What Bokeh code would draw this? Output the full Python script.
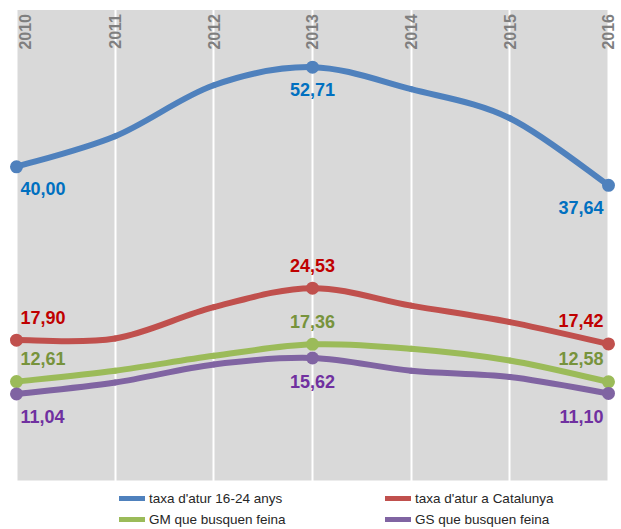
import math
from bokeh.plotting import figure
from bokeh.models import Range1d, BoxAnnotation, Grid, FixedTicker, Legend, LegendItem
from bokeh.core.properties import value
from bokeh.embed import file_html
from bokeh.resources import INLINE

years = [2010, 2011, 2012, 2013, 2014, 2015, 2016]
taxa_16_24 = [40.00, 43.9, 50.4, 52.71, 49.9, 46.2, 37.64]
taxa_cat = [17.90, 18.1, 22.1, 24.53, 22.3, 20.2, 17.42]
gm_feina = [12.61, 14.0, 15.9, 17.36, 16.8, 15.3, 12.58]
gs_feina = [11.04, 12.5, 14.8, 15.62, 14.0, 13.2, 11.10]
labelled_years = [2010, 2013, 2016]
series_names = ["taxa d'atur 16-24 anys", "taxa d'atur a Catalunya",
                "GM que busquen feina", "GS que busquen feina"]
y_max = 60

line_colors = ["#4F81BD", "#C0504D", "#9BBB59", "#8064A2"]
label_colors = ["#0070C0", "#C00000", "#77933C", "#7030A0"]
label_dy = [22, -23, -23, 23]
series = [taxa_16_24, taxa_cat, gm_feina, gs_feina]

LABEL_FONT = "Liberation Sans"

p = figure(width=621, height=529, output_backend="svg", toolbar_location=None,
           x_axis_location=None, y_axis_location=None,
           x_range=Range1d(2009.8378, 2016.1318), y_range=Range1d(-6.249, 61.211),
           min_border=0, min_border_left=0, min_border_right=0,
           min_border_top=0, min_border_bottom=0)
p.outline_line_color = None
p.background_fill_color = "white"
p.border_fill_color = "white"
p.grid.visible = False

p.add_layout(BoxAnnotation(left=years[0], right=years[-1], bottom=0, top=y_max,
                           fill_color="#D9D9D9", fill_alpha=1.0, line_alpha=0,
                           level="underlay"))
grid = Grid(dimension=0, ticker=FixedTicker(ticks=years), grid_line_color="white",
            grid_line_width=2, level="underlay")
p.add_layout(grid)


def bezier_parts(xs, ys):
    n = len(xs)
    x0, y0, x1, y1, cx0, cy0, cx1, cy1 = [], [], [], [], [], [], [], []
    for i in range(n - 1):
        pm = i - 1 if i > 0 else i
        pn = i + 2 if i + 2 < n else i + 1
        x0.append(xs[i]); y0.append(ys[i])
        x1.append(xs[i + 1]); y1.append(ys[i + 1])
        cx0.append(xs[i] + (xs[i + 1] - xs[pm]) / 6)
        cy0.append(ys[i] + (ys[i + 1] - ys[pm]) / 6)
        cx1.append(xs[i + 1] - (xs[pn] - xs[i]) / 6)
        cy1.append(ys[i + 1] - (ys[pn] - ys[i]) / 6)
    return dict(x0=x0, y0=y0, x1=x1, y1=y1, cx0=cx0, cy0=cy0, cx1=cx1, cy1=cy1)


legend_renderers = []
for vals, lc, tc, dy, name in zip(series, line_colors, label_colors, label_dy, series_names):
    b = bezier_parts(years, vals)
    p.bezier(x0=b["x0"], y0=b["y0"], x1=b["x1"], y1=b["y1"],
             cx0=b["cx0"], cy0=b["cy0"], cx1=b["cx1"], cy1=b["cy1"],
             line_color=lc, line_width=6, line_cap="round")
    mx = labelled_years
    my = [vals[years.index(y)] for y in labelled_years]
    p.scatter(x=mx, y=my, size=13, fill_color=lc, line_color=lc, line_width=0)
    texts = [f"{v:.2f}".replace(".", ",") for v in my]
    aligns = [("left", 4), ("center", 0), ("right", -5)]
    for xx, yy, tt, (al, dx) in zip(mx, my, texts, aligns):
        p.text(x=[xx], y=[yy], text=[tt], text_align=al, text_baseline="middle",
               x_offset=dx, y_offset=dy, text_color=tc,
               text_font=value(LABEL_FONT), text_font_style="bold",
               text_font_size="18px")
    lr = p.line(x=[float("nan")], y=[float("nan")], line_color=lc, line_width=5,
                line_cap="round")
    legend_renderers.append((name, lr))

# year labels
p.text(x=[years[0]], y=[y_max], text=[str(years[0])], angle=math.pi / 2,
       text_align="right", text_baseline="middle", x_offset=8, y_offset=4,
       text_color="#7F7F7F", text_font=value("Liberation Sans"),
       text_font_style="bold", text_font_size="16px")
p.text(x=years[1:], y=[y_max] * (len(years) - 1), text=[str(y) for y in years[1:]],
       angle=math.pi / 2, text_align="right", text_baseline="middle", y_offset=4,
       text_color="#7F7F7F", text_font=value("Liberation Sans"),
       text_font_style="bold", text_font_size="16px")

for idxs, loc in (([0, 2], (119, 1)), ([1, 3], (385, 1))):
    items = [LegendItem(label=legend_renderers[i][0], renderers=[legend_renderers[i][1]])
             for i in idxs]
    lg = Legend(items=items, location=loc, orientation="vertical",
                glyph_width=26, glyph_height=18, label_height=18, spacing=3,
                label_standoff=4, padding=0, margin=0,
                label_text_font="Liberation Sans", label_text_font_size="13.5px",
                label_text_color="#262626", label_text_baseline="middle",
                background_fill_alpha=0, border_line_alpha=0)
    p.add_layout(lg, "center")

open("out.html", "w").write(file_html(p, INLINE))
